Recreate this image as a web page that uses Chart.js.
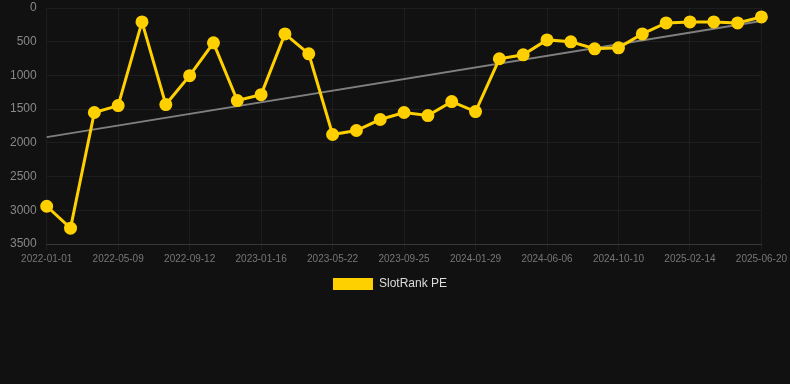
<!DOCTYPE html>
<html>
<head>
<meta charset="utf-8">
<script src="https://cdn.jsdelivr.net/npm/chart.js@4/dist/chart.umd.min.js"></script>
<style>
html,body{margin:0;padding:0;background:#111111;}
#wrap{width:790px;height:300px;position:relative;}
</style>
</head>
<body>
<div id="wrap"><canvas id="c"></canvas></div>
<script>
const categories = ["2022-01-01","2022-02-13","2022-03-28","2022-05-09","2022-06-21","2022-08-01","2022-09-12","2022-10-25","2022-12-05","2023-01-16","2023-02-28","2023-04-10","2023-05-22","2023-07-04","2023-08-14","2023-09-25","2023-11-07","2023-12-18","2024-01-29","2024-03-12","2024-04-24","2024-06-06","2024-07-18","2024-08-29","2024-10-10","2024-11-22","2025-01-03","2025-02-14","2025-03-29","2025-05-09","2025-06-20"];
const rankValues = [2940,3265,1550,1447,207,1432,1004,517,1373,1285,384,679,1876,1817,1654,1550,1595,1388,1536,753,694,473,502,605,591,384,222,207,207,222,133];
const trendStart = 1915;
const trendEnd = 192;
const yTicks = [0,500,1000,1500,2000,2500,3000,3500];

const trendData = categories.map((_, i) => i === 0 ? trendStart : (i === categories.length - 1 ? trendEnd : null));

new Chart(document.getElementById('c'), {
  type: 'line',
  data: {
    labels: categories,
    datasets: [
      {
        label: 'SlotRank PE',
        data: rankValues,
        borderColor: '#ffd000',
        backgroundColor: '#ffd000',
        borderWidth: 3,
        pointRadius: 5,
        pointHoverRadius: 5,
        pointBackgroundColor: '#ffd000',
        pointBorderColor: '#ffd000',
        tension: 0,
        order: 1
      },
      {
        label: 'trend',
        data: trendData,
        borderColor: 'rgba(140,140,140,0.9)',
        borderWidth: 2,
        pointRadius: 0,
        spanGaps: true,
        tension: 0,
        order: 2
      }
    ]
  },
  options: {
    responsive: true,
    maintainAspectRatio: false,
    animation: false,
    layout: { padding: { left: 0, right: 10, top: 0, bottom: 0 } },
    plugins: {
      legend: {
        position: 'bottom',
        labels: {
          color: '#dddddd',
          font: { family: 'Liberation Sans, Arial, sans-serif', size: 12 },
          boxWidth: 40,
          boxHeight: 12,
          generateLabels: (chart) => [{
            text: 'SlotRank PE',
            fillStyle: '#ffd000',
            strokeStyle: '#ffd000',
            lineWidth: 0,
            fontColor: '#dddddd',
            hidden: false,
            datasetIndex: 0
          }]
        }
      },
      tooltip: { enabled: false }
    },
    scales: {
      x: {
        offset: false,
        grid: { color: 'rgba(255,255,255,0.05)', drawTicks: true, tickLength: 6 },
        border: { color: 'rgba(255,255,255,0.12)' },
        ticks: {
          color: '#777777',
          font: { family: 'Liberation Sans, Arial, sans-serif', size: 10 },
          maxRotation: 0,
          autoSkip: true,
          maxTicksLimit: 11
        }
      },
      y: {
        reverse: true,
        min: 0,
        max: 3500,
        afterBuildTicks: (axis) => { axis.ticks = yTicks.map(v => ({ value: v })); },
        afterFit: (axis) => { axis.width += 10; },
        grid: { color: 'rgba(255,255,255,0.05)', drawTicks: true, tickLength: 10, tickColor: 'rgba(0,0,0,0)' },
        border: { display: false },
        ticks: {
          color: '#888888',
          padding: 0,
          callback: (v) => String(v),
          font: { family: 'Liberation Sans, Arial, sans-serif', size: 12 }
        }
      }
    }
  }
});
</script>
</body>
</html>
